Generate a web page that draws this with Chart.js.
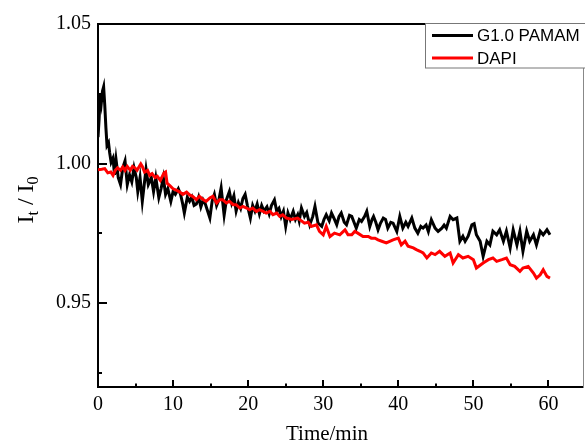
<!DOCTYPE html>
<html>
<head>
<meta charset="utf-8">
<script src="https://cdn.jsdelivr.net/npm/chart.js@4/dist/chart.umd.min.js"></script>
<style>
  body { margin: 0; background: #fff; }
</style>
</head>
<body>
<canvas id="chart" width="585" height="447"></canvas>
<script>
var blackTime = [0.0, 0.15, 0.3, 0.45, 0.6, 0.75, 0.9, 1.05, 1.2, 1.4, 1.55, 1.75, 2.0, 2.2, 2.4, 2.7, 3.0, 3.3, 3.6, 3.9,
  4.2, 4.5, 4.8, 5.1, 5.3, 5.6, 5.9, 6.2, 6.4, 6.7, 7.1, 7.4, 7.7, 8.1, 8.4, 8.7, 9.0, 9.3, 9.7, 10.0,
  10.3, 10.7, 11.0, 11.3, 11.5, 11.9, 12.2, 12.5, 12.8, 13.1, 13.4, 13.7, 14.0, 14.3, 14.6, 14.9, 15.2, 15.5, 15.8, 16.1,
  16.4, 16.8, 17.1, 17.5, 17.8, 18.1, 18.4, 18.7, 19.0, 19.3, 19.6, 19.9, 20.3, 20.6, 20.9, 21.2, 21.5, 21.8, 22.1, 22.5,
  22.8, 23.1, 23.5, 23.8, 24.1, 24.4, 24.7, 25.0, 25.3, 25.6, 26.0, 26.3, 26.6, 26.8, 27.1, 27.5, 27.8, 28.2, 28.6, 28.9,
  29.3, 29.8, 30.1, 30.4, 30.8, 31.1, 31.5, 31.8, 32.1, 32.4, 32.8, 33.1, 33.5, 33.8, 34.1, 34.4, 34.8, 35.1, 35.5, 35.8,
  36.2, 36.5, 36.7, 37.0, 37.3, 37.6, 38.0, 38.3, 38.6, 39.0, 39.3, 39.8, 40.2, 40.6, 41.0, 41.3, 41.8, 42.2, 42.6, 43.0,
  43.3, 43.7, 44.0, 44.4, 44.9, 45.3, 45.8, 46.1, 46.4, 46.9, 47.3, 47.8, 48.2, 48.6, 48.9, 49.3, 49.8, 50.1, 50.4, 50.9,
  51.3, 51.8, 52.2, 52.6, 53.1, 53.5, 54.0, 54.4, 54.9, 55.3, 55.8, 56.2, 56.6, 57.1, 57.5, 58.0, 58.4, 58.9, 59.3, 59.8,
  60.2];
var blackVals = [1.0095, 1.016, 1.025, 1.022, 1.026, 1.0275, 1.021, 1.013, 1.0065, 1.0075, 1.004, 1.0005, 1.002, 0.996, 1.0015, 0.995, 0.9925, 0.9985, 1.001, 0.9925,
  0.996, 0.9935, 0.9985, 0.995, 0.990, 0.995, 0.9865, 0.9935, 0.998, 0.9925, 0.995, 0.990, 0.995, 0.9878, 0.991, 0.995, 0.989, 0.991, 0.9865, 0.990,
  0.989, 0.991, 0.989, 0.9853, 0.9823, 0.988, 0.9865, 0.988, 0.985, 0.9855, 0.988, 0.9845, 0.987, 0.9855, 0.983, 0.9805, 0.9865, 0.989, 0.985, 0.987,
  0.9913, 0.9815, 0.987, 0.990, 0.986, 0.9885, 0.983, 0.986, 0.984, 0.9875, 0.989, 0.985, 0.9805, 0.985, 0.983, 0.9855, 0.982, 0.985, 0.983, 0.9845,
  0.982, 0.985, 0.987, 0.983, 0.984, 0.981, 0.983, 0.9775, 0.9823, 0.980, 0.9829, 0.980, 0.9817, 0.9795, 0.9841, 0.9811, 0.9825, 0.9781, 0.981, 0.9847,
  0.9787, 0.9775, 0.980, 0.9817, 0.9795, 0.9823, 0.980, 0.9781, 0.981, 0.9823, 0.979, 0.9781, 0.9815, 0.9811, 0.979, 0.9769, 0.980, 0.9793, 0.981, 0.9829,
  0.9775, 0.980, 0.9811, 0.979, 0.9763, 0.9785, 0.9805, 0.980, 0.9769, 0.979, 0.9787, 0.9757, 0.9811, 0.9769, 0.979, 0.9775, 0.9805, 0.9769, 0.9751, 0.9775,
  0.9769, 0.978, 0.9757, 0.9799, 0.9769, 0.9757, 0.9769, 0.978, 0.9769, 0.9811, 0.9799, 0.9805, 0.9722, 0.974, 0.9722, 0.974, 0.9781, 0.9785, 0.9745, 0.9722,
  0.9668, 0.9722, 0.9709, 0.9758, 0.9745, 0.9763, 0.9722, 0.9758, 0.9698, 0.9763, 0.9709, 0.9758, 0.9686, 0.9758, 0.9722, 0.9745, 0.9709, 0.9758, 0.9745, 0.9763,
  0.9745];

var redTime = [0.0, 0.5, 0.9, 1.3, 1.7, 2.0, 2.3, 2.6, 3.0, 3.3, 3.6, 3.9, 4.3, 4.6, 4.9, 5.2, 5.7, 5.9, 6.2, 6.6,
  6.9, 7.2, 7.6, 7.9, 8.3, 8.8, 9.0, 9.2, 9.6, 10.0, 10.5, 10.9, 11.3, 11.8, 12.2, 12.6, 13.1, 13.5, 14.0, 14.4,
  14.9, 15.3, 15.8, 16.2, 16.6, 17.1, 17.5, 18.0, 18.4, 18.9, 19.3, 19.8, 20.2, 20.6, 21.1, 21.5, 22.0, 22.4, 22.9, 23.3,
  23.8, 24.2, 24.6, 25.1, 25.8, 26.6, 27.1, 27.5, 28.0, 28.4, 29.1, 29.5, 30.0, 30.4, 30.9, 31.5, 32.2, 32.9, 33.3, 33.8,
  34.2, 34.6, 35.3, 36.0, 36.4, 36.9, 37.3, 37.8, 38.4, 39.3, 40.0, 40.4, 40.9, 41.3, 42.0, 42.4, 42.9, 43.3, 43.8, 44.4,
  44.9, 45.5, 46.2, 46.9, 47.3, 48.0, 48.6, 49.3, 50.0, 50.4, 51.3, 52.0, 52.6, 53.1, 53.8, 54.4, 54.9, 55.5, 56.2, 56.6,
  57.3, 58.0, 58.4, 58.9, 59.3, 59.8, 60.2];
var redVals = [0.9978, 0.998, 0.9982, 0.9967, 0.997, 0.9958, 0.9976, 0.9985, 0.9976, 0.9988, 0.9976, 0.999, 0.9976, 0.999, 0.9985, 0.9976, 0.9999, 0.999, 0.997, 0.9976,
  0.9958, 0.9964, 0.995, 0.9955, 0.994, 0.9967, 0.997, 0.993, 0.992, 0.991, 0.9904, 0.9898, 0.989, 0.9898, 0.9888, 0.9883, 0.9871, 0.9883, 0.9871, 0.9865,
  0.9877, 0.9883, 0.9859, 0.9871, 0.9871, 0.9859, 0.9865, 0.9853, 0.9853, 0.9841, 0.9847, 0.9841, 0.9835, 0.9841, 0.9829, 0.9835, 0.9829, 0.9823, 0.9829, 0.9817,
  0.9823, 0.9811, 0.9817, 0.9805, 0.980, 0.9805, 0.9795, 0.9787, 0.979, 0.9775, 0.9781, 0.9757, 0.9745, 0.9775, 0.9739, 0.9751, 0.9745, 0.9763, 0.9745, 0.9745,
  0.9757, 0.9751, 0.9739, 0.9739, 0.9733, 0.9733, 0.9727, 0.9722, 0.9716, 0.9727, 0.9733, 0.9709, 0.9722, 0.9704, 0.9698, 0.9692, 0.9686, 0.968, 0.9662, 0.968,
  0.9674, 0.9686, 0.9668, 0.968, 0.9644, 0.9674, 0.9662, 0.9668, 0.9656, 0.9626, 0.9644, 0.9656, 0.9662, 0.965, 0.9656, 0.9662, 0.9638, 0.9632, 0.9614, 0.9626,
  0.9632, 0.9608, 0.959, 0.9602, 0.962, 0.9596, 0.959];

var seriesNames = ["G1.0 PAMAM", "DAPI"];
var xTicks = [0, 10, 20, 30, 40, 50, 60];
var xMinorTicks = [5, 15, 25, 35, 45, 55];
var yTicks = [0.95, 1.00, 1.05];
var yMinorTicks = [0.925, 0.975, 1.025];

function toPoints(times, vals) {
  return times.map(function (t, i) {
    return { x: t, y: vals[i] };
  });
}

// inward tick marks, axis titles and the boxed legend
var extras = {
  id: "extras",
  afterDraw: function (chart) {
    var ctx = chart.ctx;
    var area = chart.chartArea;
    var xs = chart.scales.x;
    var ys = chart.scales.y;
    ctx.save();
    ctx.strokeStyle = "#000";
    ctx.lineWidth = 2;
    ctx.beginPath();
    xTicks.forEach(function (v) {
      var px = Math.round(xs.getPixelForValue(v));
      ctx.moveTo(px, area.bottom);
      ctx.lineTo(px, area.bottom - 7);
    });
    xMinorTicks.forEach(function (v) {
      var px = Math.round(xs.getPixelForValue(v));
      ctx.moveTo(px, area.bottom);
      ctx.lineTo(px, area.bottom - 3.5);
    });
    yTicks.forEach(function (v) {
      var py = Math.round(ys.getPixelForValue(v));
      ctx.moveTo(area.left, py);
      ctx.lineTo(area.left + 9, py);
    });
    yMinorTicks.forEach(function (v) {
      var py = Math.round(ys.getPixelForValue(v));
      ctx.moveTo(area.left, py);
      ctx.lineTo(area.left + 4, py);
    });
    ctx.stroke();

    // x title
    ctx.fillStyle = "#000";
    ctx.font = "21px 'Liberation Serif'";
    ctx.textAlign = "center";
    ctx.textBaseline = "alphabetic";
    ctx.fillText("Time/min", 327, 440);

    // y title with subscripts
    var big = "24px 'Liberation Serif'";
    var small = "16px 'Liberation Serif'";
    var parts = [
      { t: "I", f: big, dy: 0 },
      { t: "t", f: small, dy: 5 },
      { t: " / ", f: big, dy: 0 },
      { t: "I", f: big, dy: 0 },
      { t: "0", f: small, dy: 5 }
    ];
    var total = 0;
    parts.forEach(function (p) {
      ctx.font = p.f;
      p.w = ctx.measureText(p.t).width;
      total += p.w;
    });
    ctx.translate(33, 200);
    ctx.rotate(-Math.PI / 2);
    ctx.textAlign = "left";
    var u = -total / 2;
    parts.forEach(function (p) {
      ctx.font = p.f;
      ctx.fillText(p.t, u, p.dy);
      u += p.w;
    });
    ctx.setTransform(1, 0, 0, 1, 0, 0);

    // legend box
    ctx.fillStyle = "#fff";
    ctx.fillRect(425.5, 23.5, 165, 44.5);
    ctx.strokeStyle = "#777";
    ctx.lineWidth = 1;
    ctx.strokeRect(425.5, 23.5, 165, 44.5);
    var rowY = [35.5, 58];
    chart.data.datasets.forEach(function (ds, i) {
      ctx.strokeStyle = ds.borderColor;
      ctx.lineWidth = 3;
      ctx.beginPath();
      ctx.moveTo(432, rowY[i]);
      ctx.lineTo(473, rowY[i]);
      ctx.stroke();
      ctx.fillStyle = "#000";
      ctx.font = "17px 'Liberation Sans'";
      ctx.textBaseline = "middle";
      ctx.fillText(ds.label, 477, rowY[i] + 1);
    });
    ctx.restore();
  }
};

new Chart(document.getElementById("chart").getContext("2d"), {
  type: "line",
  data: {
    datasets: [
      {
        label: seriesNames[0],
        data: toPoints(blackTime, blackVals),
        borderColor: "#000000",
        borderWidth: 3,
        pointRadius: 0,
        tension: 0,
        order: 2
      },
      {
        label: seriesNames[1],
        data: toPoints(redTime, redVals),
        borderColor: "#ff0000",
        borderWidth: 3,
        pointRadius: 0,
        tension: 0,
        order: 1
      }
    ]
  },
  options: {
    responsive: false,
    animation: false,
    layout: { padding: { top: 24, right: 2, left: 0, bottom: 0 } },
    plugins: { legend: { display: false }, tooltip: { enabled: false } },
    scales: {
      x: {
        type: "linear",
        position: "bottom",
        min: 0,
        max: 64.6,
        afterBuildTicks: function (scale) {
          scale.ticks = xTicks.map(function (v) { return { value: v }; });
        },
        afterFit: function (scale) { scale.height = 60; },
        grid: { display: false, drawTicks: false },
        border: { display: true, color: "#000", width: 2 },
        ticks: {
          color: "#000",
          padding: 6,
          maxRotation: 0,
          font: { family: "'Liberation Serif'", size: 20 },
          callback: function (v) { return String(v); }
        }
      },
      y: {
        type: "linear",
        position: "left",
        min: 0.92,
        max: 1.05,
        afterBuildTicks: function (scale) {
          scale.ticks = yTicks.map(function (v) { return { value: v }; });
        },
        afterFit: function (scale) { scale.width = 98; },
        grid: { display: false, drawTicks: false },
        border: { display: true, color: "#000", width: 2 },
        ticks: {
          color: "#000",
          padding: 7,
          font: { family: "'Liberation Serif'", size: 20 },
          callback: function (v) { return v.toFixed(2); }
        }
      },
      x2: {
        type: "linear",
        position: "top",
        min: 0,
        max: 64.6,
        afterFit: function (scale) { scale.height = 0; },
        grid: { display: false, drawTicks: false },
        border: { display: true, color: "#000", width: 2 },
        ticks: { display: false }
      },
      y2: {
        type: "linear",
        position: "right",
        min: 0.92,
        max: 1.05,
        afterFit: function (scale) { scale.width = 0; },
        grid: { display: false, drawTicks: false },
        border: { display: true, color: "#888", width: 1 },
        ticks: { display: false }
      }
    }
  },
  plugins: [extras]
});
</script>
</body>
</html>
